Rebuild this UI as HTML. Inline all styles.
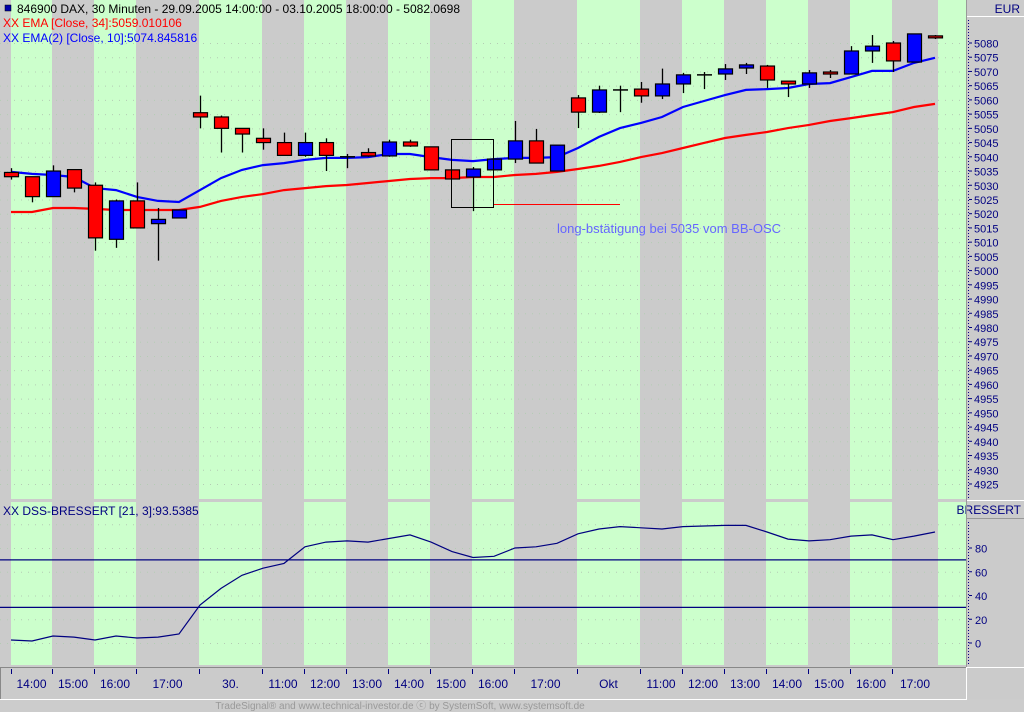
<!DOCTYPE html>
<html><head><meta charset="utf-8">
<style>
html,body{margin:0;padding:0;background:#cccccc;}
svg{display:block;font-family:"Liberation Sans",sans-serif;}
</style></head>
<body>
<svg id="chart" width="1024" height="712" viewBox="0 0 1024 712" xmlns="http://www.w3.org/2000/svg">
<rect x="0" y="0" width="1024" height="712" fill="#cccccc"/>
<g id="bands"></g>
<g id="grid"></g>
<g id="ema34"></g>
<g id="ema10"></g>
<g id="candles"></g>
<g id="dss"></g>
<g id="axes"></g>
<g>
  <rect x="451.5" y="139.5" width="42" height="68" fill="none" stroke="#000" stroke-width="1"/>
  <line x1="494" y1="204.5" x2="620" y2="204.5" stroke="#ff0000" stroke-width="1"/>
  <text x="557" y="233" font-size="13" fill="#6666ff">long-bstätigung bei 5035 vom BB-OSC</text>
</g>
<g font-size="12">
  <rect x="5" y="5" width="6" height="6" fill="#0000aa" stroke="#000" stroke-width="0.5"/>
  <text x="17" y="13" fill="#000">846900  DAX, 30 Minuten - 29.09.2005 14:00:00 - 03.10.2005 18:00:00 - 5082.0698</text>
  <text x="3" y="27" fill="#ff0000">XX EMA [Close, 34]:5059.010106</text>
  <text x="3" y="42" fill="#0000ff">XX EMA(2) [Close, 10]:5074.845816</text>
  <text x="3" y="515" fill="#000080">XX DSS-BRESSERT [21, 3]:93.5385</text>
</g>
<text x="400" y="709" font-size="10" fill="#999999" text-anchor="middle">TradeSignal® and www.technical-investor.de ⓒ by  SystemSoft, www.systemsoft.de</text>
</svg>
<script>
const opens  = [5034.5,5033,5026,5035.5,5030,5011,5024.5,5016.5,5018.5,5055.5,5054,5050,5046.5,5045,5040.5,5045,5040,5041.5,5040.3,5045.2,5043.5,5035.4,5032.9,5035.4,5039.2,5045.6,5035,5060.7,5055.7,5063.5,5063.8,5061.4,5065.6,5068.8,5069.1,5071.2,5071.9,5066.6,5065.6,5069.8,5069.1,5077.2,5080,5073.3,5082.5];
const highs  = [5036,5033,5037,5035.5,5031,5025,5031,5022,5021.5,5061.5,5054.5,5050,5050,5048.5,5048.5,5046.5,5041,5043,5046,5046,5043.5,5035.4,5036.4,5039.2,5052.6,5049.8,5044.1,5061.7,5065,5065,5066.3,5071,5069.5,5069.8,5072.6,5073,5072.3,5066.6,5070.5,5070.5,5078.9,5082.8,5080.7,5083.2,5082.8];
const lows   = [5032,5024,5026,5027.5,5007,5008,5015,5003.5,5018.5,5050,5041.5,5041.5,5042.5,5040.5,5040,5035,5036,5040,5040,5043.5,5035.4,5032.2,5020.9,5035.4,5037.8,5037.8,5035,5050.1,5055.4,5055.7,5059,5060.3,5062.4,5063.8,5067,5069.1,5064.2,5061,5064.2,5067.7,5069.1,5073,5069.8,5073.3,5081.4];
const closes = [5033,5026,5035,5029,5011.5,5024.5,5015,5018,5021.3,5054,5050,5048,5045,5040.5,5045,5040.5,5040,5040.3,5045.2,5043.8,5035.4,5032.2,5035.7,5039.2,5045.6,5037.8,5044.1,5055.7,5063.5,5063.5,5061.4,5065.6,5068.8,5068.8,5070.9,5072.3,5067,5065.6,5069.5,5069.1,5077.2,5078.9,5073.7,5083.2,5081.8];
const ema10 = [5034.7,5034,5033.6,5032.9,5029,5028.3,5025.9,5024.5,5024.1,5028.3,5032.5,5035.4,5037.1,5037.8,5038.9,5039.6,5039.6,5039.9,5041,5041,5039.9,5038.9,5038.5,5039.2,5039.6,5039.6,5039.9,5043.1,5047,5050.1,5051.9,5054,5057.5,5059.6,5061.7,5063.5,5063.8,5064.2,5065.6,5065.9,5068,5070.2,5070.2,5073,5074.8];
const ema34 = [5020.6,5020.6,5022,5022,5021.7,5021.3,5021.3,5021.3,5021.3,5022.4,5024.5,5025.9,5026.9,5028.3,5029,5029.7,5030.1,5030.8,5031.5,5032.2,5032.5,5032.5,5032.9,5032.9,5033.6,5034,5034.7,5035.7,5036.8,5038.2,5039.9,5041.3,5043.1,5044.9,5046.6,5047.7,5048.7,5050.1,5051.2,5052.6,5053.6,5054.7,5055.7,5057.5,5058.6];
const dssValues = [2.5,1.7,5.9,5,2.5,5.9,4.2,5,7.6,32,46,57,63,67,81,85,86,85,88,91,85,77,72,73,80,81,84,92,96,98,97,96,98,98.5,99,99,93.5,87.5,86,87,90,91,87,90,93.5];
const priceTicks = [5080,5075,5070,5065,5060,5055,5050,5045,5040,5035,5030,5025,5020,5015,5010,5005,5000,4995,4990,4985,4980,4975,4970,4965,4960,4955,4950,4945,4940,4935,4930,4925];
const dssTicks = [80,60,40,20,0];
const dssLevels = [70,30];
const timeLabels = ["14:00","15:00","16:00","17:00","30.","11:00","12:00","13:00","14:00","15:00","16:00","17:00","Okt","11:00","12:00","13:00","14:00","15:00","16:00","17:00"];

const NS="http://www.w3.org/2000/svg";
function mk(parent,tag,attrs){const e=document.createElementNS(NS,tag);for(const k in attrs)e.setAttribute(k,attrs[k]);parent.appendChild(e);return e;}
const xOf = i => 11 + 21*i;
const yP = p => 43 + (5080-p)*2.845;
const yD = v => 643 - v*1.1875;

const edges=[0,11,52,94,136,199,262,304,346,388,430,472,514,577,640,682,724,766,808,850,892,938,966];
const bands=document.getElementById('bands');
for(let i=0;i<edges.length-1;i++){
  const fill = i%2===0 ? '#cbcbcb' : '#ccffcc';
  const r1=mk(bands,'rect',{x:edges[i],y:0,width:edges[i+1]-edges[i],height:499,fill:fill});
  
  
  const r2=mk(bands,'rect',{x:edges[i],y:502,width:edges[i+1]-edges[i],height:163,fill:fill});
  
  
}
mk(bands,'rect',{x:0,y:499,width:966,height:3,fill:'#cbcbcb'});
const grid=document.getElementById('grid');
priceTicks.forEach(p=>{
  const l=mk(grid,'line',{x1:0,x2:966,y1:yP(p)+0.5,y2:yP(p)+0.5,stroke:'#b4ccb4','stroke-width':1,'stroke-dasharray':'1 6'});
  
  
});
[100,80,60,40,20,0].forEach(v=>{
  const l=mk(grid,'line',{x1:0,x2:966,y1:yD(v)+0.5,y2:yD(v)+0.5,stroke:'#b4ccb4','stroke-width':1,'stroke-dasharray':'1 6'});
  
  
});
function line(gid,vals,color,name){
  const pts=vals.map((v,i)=>xOf(i)+','+yP(v).toFixed(1)).join(' ');
  const pl=mk(document.getElementById(gid),'polyline',{points:pts,fill:'none',stroke:color,'stroke-width':2.2});
  
  
}
line('ema34',ema34,'#ff0000','ema34-line');
line('ema10',ema10,'#0000ff','ema10-line');
const cg=document.getElementById('candles');
for(let i=0;i<opens.length;i++){
  const x=xOf(i), o=opens[i], c=closes[i];
  const g=mk(cg,'g',{});
  
  
  mk(g,'line',{x1:x+0.5,x2:x+0.5,y1:yP(highs[i]),y2:yP(lows[i]),stroke:'#000','stroke-width':1.3});
  const top=yP(Math.max(o,c)), bot=yP(Math.min(o,c));
  const up=c>o;
  if(Math.abs(c-o)<0.2){
    mk(g,'line',{x1:x-7,x2:x+8,y1:top,y2:top,stroke:'#000','stroke-width':1.5});
  } else {
    mk(g,'rect',{x:x-6.5,y:top,width:14,height:Math.max(bot-top,2),fill:up?'#0000ff':'#ff0000',stroke:'#000','stroke-width':1.2});
  }
}
const dg=document.getElementById('dss');
dssLevels.forEach(v=>{
  const l=mk(dg,'line',{x1:0,x2:966,y1:yD(v),y2:yD(v),stroke:'#000080','stroke-width':1.2});
  
  
});
const dpl=mk(dg,'polyline',{points:dssValues.map((v,i)=>xOf(i)+','+yD(v).toFixed(1)).join(' '),fill:'none',stroke:'#000080','stroke-width':1.2});


const ax=document.getElementById('axes');
mk(ax,'rect',{x:966,y:0,width:58,height:499,fill:'#cbcbcb'});
mk(ax,'line',{x1:966.5,x2:966.5,y1:0,y2:699,stroke:'#999','stroke-width':1});
mk(ax,'line',{x1:967,x2:1024,y1:16.5,y2:16.5,stroke:'#ffffff','stroke-width':1});
mk(ax,'line',{x1:968.5,x2:968.5,y1:20,y2:498,stroke:'#000080','stroke-width':1,'stroke-dasharray':'1 2'});
const eur=mk(ax,'text',{x:1020,y:13,'font-size':12,fill:'#000080','text-anchor':'end'});
eur.textContent='EUR';


priceTicks.forEach(p=>{
  const y=yP(p);
  mk(ax,'line',{x1:969,x2:972,y1:y,y2:y,stroke:'#000080'});
  const t=mk(ax,'text',{x:974,y:y+4.5,'font-size':11,fill:'#000080'});
  t.textContent=p;
  
  
});
mk(ax,'rect',{x:966,y:499,width:58,height:200,fill:'#cbcbcb'});
mk(ax,'line',{x1:966,x2:1024,y1:500.5,y2:500.5,stroke:'#ffffff'});
mk(ax,'line',{x1:966,x2:1024,y1:518.5,y2:518.5,stroke:'#999'});
const br=mk(ax,'text',{x:1021,y:514,'font-size':12,fill:'#000080','text-anchor':'end'});
br.textContent='BRESSERT';


mk(ax,'line',{x1:966.5,x2:966.5,y1:499,y2:668,stroke:'#999'});
mk(ax,'line',{x1:968.5,x2:968.5,y1:522,y2:665,stroke:'#000080','stroke-dasharray':'1 2'});
dssTicks.forEach(v=>{
  const y=yD(v);
  mk(ax,'line',{x1:969,x2:972,y1:y,y2:y,stroke:'#000080'});
  const t=mk(ax,'text',{x:975,y:y+4.5,'font-size':11,fill:'#000080'});
  t.textContent=v;
  
  
});
mk(ax,'line',{x1:966,x2:1024,y1:667.5,y2:667.5,stroke:'#ffffff'});
mk(ax,'rect',{x:0,y:665,width:966,height:34,fill:'#cbcbcb'});
mk(ax,'line',{x1:0,x2:966,y1:667.5,y2:667.5,stroke:'#888'});
mk(ax,'line',{x1:0.5,x2:0.5,y1:667,y2:699,stroke:'#888'});
mk(ax,'line',{x1:0,x2:966,y1:699.5,y2:699.5,stroke:'#ffffff'});
mk(ax,'line',{x1:966.5,x2:966.5,y1:667,y2:700,stroke:'#ffffff'});
for(let i=1;i<edges.length-2;i++){
  mk(ax,'line',{x1:edges[i]+0.5,x2:edges[i]+0.5,y1:669,y2:674,stroke:'#000080'});
}
timeLabels.forEach((s,i)=>{
  const cx=(edges[i+1]+edges[i+2])/2;
  const t=mk(ax,'text',{x:cx,y:688,'font-size':12,fill:'#000080','text-anchor':'middle'});
  t.textContent=s;
  
  
});
</script>
</body></html>
